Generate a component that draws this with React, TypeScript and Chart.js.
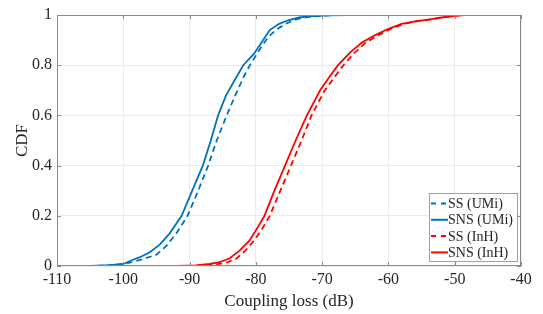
import React, { useEffect, useRef } from "react";
import { Chart, registerables } from "chart.js";

Chart.register(...registerables);

const xTicks = [-110, -100, -90, -80, -70, -60, -50, -40];
const yTicks = [0, 0.2, 0.4, 0.6, 0.8, 1];

const seriesNames = ["SS (UMi)", "SNS (UMi)", "SS (InH)", "SNS (InH)"];

const ssUmiX = [-104, -101, -99, -97, -95, -93.5, -92, -90.3, -88.7, -87.2, -85.9, -84.4, -83.1, -81.9, -80.9, -79.5, -78.2, -77, -75.5, -74, -72, -69, -66];
const ssUmiY = [0, 0.005, 0.013, 0.028, 0.045, 0.08, 0.13, 0.2, 0.3, 0.4, 0.5, 0.6, 0.68, 0.75, 0.8, 0.86, 0.91, 0.94, 0.965, 0.982, 0.993, 0.999, 1.0];

const snsUmiX = [-105, -102, -100, -99, -97.5, -96, -94.5, -93, -91.2, -89.6, -88, -86.8, -85.7, -84.5, -83.2, -81.9, -80.3, -78.9, -77.9, -76.5, -75, -73.5, -71.5, -69, -66, -62.8];
const snsUmiY = [0, 0.003, 0.008, 0.02, 0.035, 0.055, 0.085, 0.13, 0.2, 0.3, 0.4, 0.5, 0.6, 0.68, 0.74, 0.8, 0.845, 0.9, 0.94, 0.965, 0.98, 0.99, 0.996, 0.999, 1.0, 1.0];

const ssInhX = [-90.5, -88, -86, -84.5, -83, -81.7, -80.3, -79, -77.9, -76.3, -74.7, -73.1, -71.6, -69.6, -68.2, -66.8, -65.1, -63.4, -61.5, -59.6, -57.6, -55.8, -53.8, -51.8, -50, -49];
const ssInhY = [0, 0.002, 0.006, 0.013, 0.028, 0.058, 0.1, 0.15, 0.2, 0.3, 0.4, 0.5, 0.6, 0.7, 0.75, 0.8, 0.85, 0.89, 0.92, 0.945, 0.965, 0.975, 0.982, 0.99, 0.997, 1.0];

const snsInhX = [-92, -89, -87, -85.5, -84, -82.5, -81, -79.8, -78.7, -77.2, -75.6, -74, -72.3, -70.3, -69, -67.6, -65.8, -64, -62, -60, -58, -56, -54, -52, -50, -48.5];
const snsInhY = [0, 0.002, 0.008, 0.015, 0.03, 0.06, 0.1, 0.15, 0.2, 0.3, 0.4, 0.5, 0.6, 0.7, 0.75, 0.8, 0.85, 0.89, 0.92, 0.945, 0.965, 0.975, 0.982, 0.99, 0.997, 1.0];

const BLUE = "#0072BD";
const RED = "#FF0000";
const TEXT = "#262626";
const FONT = "'Liberation Serif', 'Times New Roman', serif";

const toPts = (xs: number[], ys: number[]) => xs.map((x, i) => ({ x, y: ys[i] }));

const styles = [
  { color: BLUE, dash: [6, 4] },
  { color: BLUE, dash: [] as number[] },
  { color: RED, dash: [6, 4] },
  { color: RED, dash: [] as number[] },
];

const boxPlugin = {
  id: "matlabBox",
  afterDraw(chart: any) {
    const { ctx, chartArea: a, scales } = chart;
    ctx.save();
    ctx.strokeStyle = "#8a8a8a";
    ctx.lineWidth = 1;
    ctx.strokeRect(a.left + 0.5, a.top + 0.5, a.right - a.left - 1, a.bottom - a.top - 1);
    const tl = 4;
    ctx.beginPath();
    xTicks.forEach((v) => {
      const px = Math.round(scales.x.getPixelForValue(v)) + 0.5;
      ctx.moveTo(px, a.bottom);
      ctx.lineTo(px, a.bottom - tl);
      ctx.moveTo(px, a.top);
      ctx.lineTo(px, a.top + tl);
    });
    yTicks.forEach((v) => {
      const py = Math.round(scales.y.getPixelForValue(v)) + 0.5;
      ctx.moveTo(a.left, py);
      ctx.lineTo(a.left + tl, py);
      ctx.moveTo(a.right, py);
      ctx.lineTo(a.right - tl, py);
    });
    ctx.stroke();

    // legend
    const lx = 429, ly = 193, lw = 88, lh = 68;
    ctx.fillStyle = "#ffffff";
    ctx.fillRect(lx, ly, lw, lh);
    ctx.strokeStyle = "#a0a0a0";
    ctx.strokeRect(lx + 0.5, ly + 0.5, lw, lh);
    ctx.font = `14px ${FONT}`;
    ctx.textBaseline = "middle";
    ctx.textAlign = "left";
    seriesNames.forEach((name, i) => {
      const y = ly + 10.5 + i * 16.3;
      ctx.strokeStyle = styles[i].color;
      ctx.lineWidth = 2;
      ctx.setLineDash(styles[i].dash.length ? [5, 5] : []);
      ctx.beginPath();
      ctx.moveTo(lx + 2, y);
      ctx.lineTo(lx + 19, y);
      ctx.stroke();
      ctx.setLineDash([]);
      ctx.fillStyle = TEXT;
      ctx.fillText(name, lx + 19, y + 1);
    });
    ctx.restore();
  },
};

export default function App() {
  const ref = useRef<HTMLCanvasElement>(null);
  useEffect(() => {
    if (!ref.current) return;
    const series = [
      toPts(ssUmiX, ssUmiY),
      toPts(snsUmiX, snsUmiY),
      toPts(ssInhX, ssInhY),
      toPts(snsInhX, snsInhY),
    ];
    const chart = new Chart(ref.current, {
      type: "line",
      data: {
        datasets: series.map((d, i) => ({
          label: seriesNames[i],
          data: d,
          borderColor: styles[i].color,
          backgroundColor: styles[i].color,
          borderDash: styles[i].dash,
          borderWidth: 1.8,
          pointRadius: 0,
          tension: 0,
          fill: false,
        })),
      },
      options: {
        responsive: false,
        animation: false,
        events: [],
        layout: { padding: { top: 15, right: 22, left: 0, bottom: 0 } },
        plugins: { legend: { display: false }, tooltip: { enabled: false } },
        scales: {
          x: {
            type: "linear",
            min: -110,
            max: -40,
            afterBuildTicks: (s: any) => {
              s.ticks = xTicks.map((v) => ({ value: v }));
            },
            afterFit: (s: any) => {
              s.height = 48;
            },
            ticks: {
              color: TEXT,
              font: { family: FONT, size: 16 },
              padding: 4,
              maxRotation: 0,
              callback: (v: any) => String(v),
            },
            grid: { color: "#ebebeb", drawTicks: false },
            border: { display: false },
            title: {
              display: true,
              text: "Coupling loss (dB)",
              color: TEXT,
              font: { family: FONT, size: 17 },
              padding: { top: 0, bottom: 2 },
            },
          },
          y: {
            type: "linear",
            min: 0,
            max: 1,
            afterBuildTicks: (s: any) => {
              s.ticks = yTicks.map((v) => ({ value: v }));
            },
            afterFit: (s: any) => {
              s.width = 57;
            },
            ticks: {
              color: TEXT,
              font: { family: FONT, size: 16 },
              padding: 5,
              callback: (v: any) => String(v),
            },
            grid: { color: "#ebebeb", drawTicks: false },
            border: { display: false },
            title: {
              display: true,
              text: "CDF",
              color: TEXT,
              font: { family: FONT, size: 17 },
              padding: { top: 12, bottom: 0 },
            },
          },
        },
      },
      plugins: [boxPlugin],
    } as any);
    return () => chart.destroy();
  }, []);
  return (
    <div style={{ position: "fixed", left: 0, top: 0, width: 543, height: 314, background: "#fff" }}>
      <canvas ref={ref} width={543} height={314} />
    </div>
  );
}
